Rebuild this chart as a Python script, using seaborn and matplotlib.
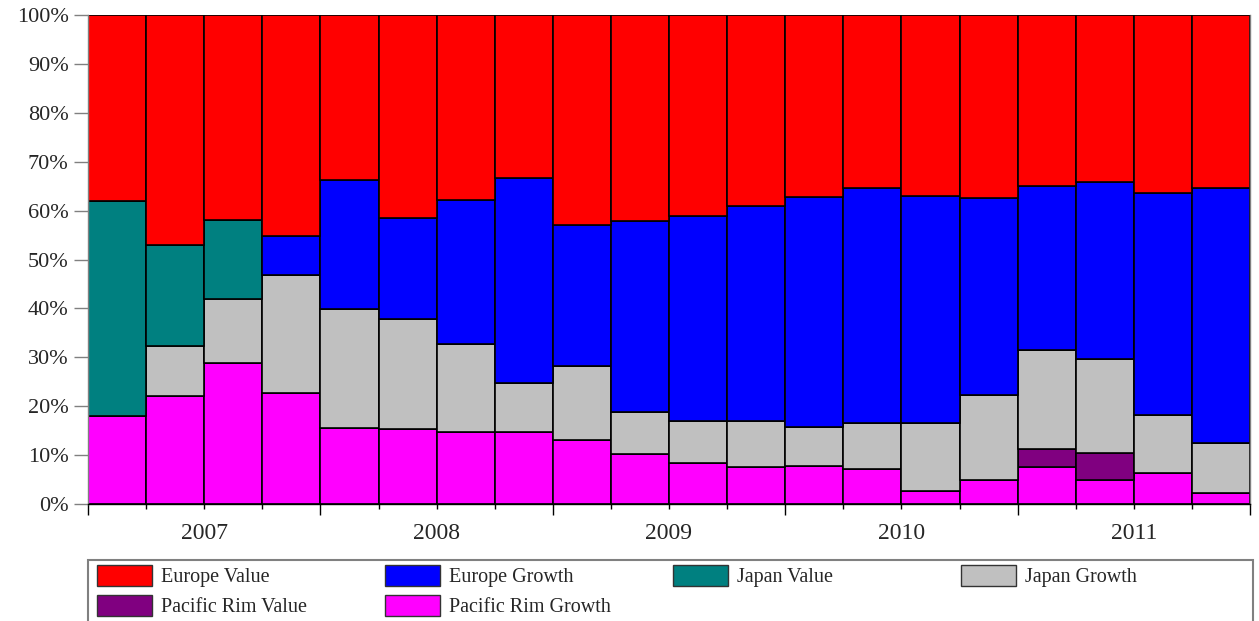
import numpy as np
import pandas as pd
import matplotlib
matplotlib.use("Agg")
import matplotlib.pyplot as plt
from matplotlib.patches import Rectangle
from matplotlib.ticker import FixedLocator, PercentFormatter
import seaborn as sns

# Quarterly style allocation (percent of portfolio)
quarters = [f"{y} Q{q}" for y in range(2007, 2012) for q in range(1, 5)]
years = ["2007", "2008", "2009", "2010", "2011"]

pacific_rim_growth = [18.0, 22.0, 28.8, 22.8, 15.5, 15.3, 14.7, 14.7, 13.1, 10.2,
                      8.4, 7.6, 7.8, 7.1, 2.7, 4.9, 7.6, 5.0, 6.4, 2.3]
pacific_rim_value = [0, 0, 0, 0, 0, 0, 0, 0, 0, 0,
                     0, 0, 0, 0, 0, 0, 3.6, 5.5, 0, 0]
japan_growth = [0, 10.4, 13.1, 24.1, 24.4, 22.5, 18.0, 10.1, 15.2, 8.7,
                8.6, 9.4, 8.0, 9.5, 13.9, 17.4, 20.2, 19.2, 11.8, 10.2]
japan_value = [44.0, 20.6, 16.2, 0, 0, 0, 0, 0, 0, 0,
               0, 0, 0, 0, 0, 0, 0, 0, 0, 0]
europe_growth = [0, 0, 0, 8.0, 26.3, 20.6, 29.4, 41.9, 28.8, 39.0,
                 41.9, 44.0, 47.0, 48.0, 46.4, 40.2, 33.7, 36.2, 45.5, 52.1]
europe_value = [38.0, 47.0, 41.9, 45.1, 33.8, 41.6, 37.9, 33.3, 42.9, 42.1,
                41.1, 39.0, 37.2, 35.4, 37.0, 37.5, 34.9, 34.1, 36.3, 35.4]

# bottom-to-top stacking order
series = [
    ("Pacific Rim Growth", pacific_rim_growth, "#FF00FF"),
    ("Pacific Rim Value", pacific_rim_value, "#800080"),
    ("Japan Growth", japan_growth, "#C0C0C0"),
    ("Japan Value", japan_value, "#008080"),
    ("Europe Growth", europe_growth, "#0000FF"),
    ("Europe Value", europe_value, "#FF0000"),
]

sns.set_style("white")
plt.rcParams["font.family"] = ["Liberation Serif", "DejaVu Serif"]

W, H = 1259, 621
fig = plt.figure(figsize=(W / 100, H / 100), dpi=100)
ax = fig.add_axes([88 / W, 1 - 504 / H, (1250 - 88) / W, (504 - 15) / H])

bottom = np.zeros(len(quarters))
handles = {}
for name, values, color in series:
    df = pd.DataFrame({"quarter": quarters, "share": values})
    sns.barplot(data=df, x="quarter", y="share", order=quarters, bottom=bottom,
                color=color, saturation=1, width=1, errorbar=None,
                edgecolor="black", linewidth=1.2, ax=ax)
    handles[name] = Rectangle((0, 0), 1, 1, facecolor=color,
                              edgecolor="#333333", linewidth=1)
    bottom = bottom + np.asarray(values)

ax.set_xlim(-0.5, len(quarters) - 0.5)
ax.set_ylim(0, 100)
ax.set_xlabel("")
ax.set_ylabel("")

# y axis
ax.yaxis.set_major_locator(FixedLocator(np.arange(0, 101, 10)))
ax.yaxis.set_major_formatter(PercentFormatter(100, decimals=0))
ax.tick_params(axis="y", direction="out", length=10, width=1, color="#808080",
               pad=4, labelsize=16, left=True)

# x axis: long ticks at year boundaries, short ticks at quarter boundaries
bounds = np.arange(len(quarters) + 1) - 0.5
ax.set_xticks(bounds[::4])
ax.set_xticklabels([])
ax.set_xticks(bounds, minor=True)
ax.tick_params(axis="x", which="major", direction="out", length=8, width=1,
               color="black", bottom=True)
ax.tick_params(axis="x", which="minor", direction="out", length=3.6, width=1,
               color="black", bottom=True)

sec = ax.secondary_xaxis("bottom")
sec.set_xticks(np.arange(len(years)) * 4 + 1.5)
sec.set_xticklabels(years)
sec.tick_params(axis="x", length=0, pad=14, labelsize=17)
sec.spines["bottom"].set_visible(False)

ax.spines["top"].set_visible(False)
ax.spines["left"].set_color("#808080")
ax.spines["right"].set_color("#808080")
ax.spines["bottom"].set_color("black")
for s in ax.spines.values():
    s.set_linewidth(1)

# legend box spanning the plot width, running past the bottom edge
fig.patches.append(Rectangle((88 / W, -0.05), (1253 - 88) / W, 0.05 + 61 / H,
                             transform=fig.transFigure, facecolor="white",
                             edgecolor="#808080", linewidth=1.5, zorder=0))

# four evenly spaced legend columns, read row-wise
columns = [["Europe Value", "Pacific Rim Value"],
           ["Europe Growth", "Pacific Rim Growth"],
           ["Japan Value"],
           ["Japan Growth"]]
fs = 14.5
fs_px = fs * 100 / 72
for i, names in enumerate(columns):
    x0 = (97 + 288 * i) / W
    fig.legend([handles[n] for n in names], names, loc="upper left",
               bbox_to_anchor=(x0, 1 - 565 / H), borderaxespad=0,
               borderpad=0, frameon=False, fontsize=fs,
               handlelength=55 / fs_px, handleheight=24 / fs_px,
               handletextpad=9 / fs_px, labelspacing=8 / fs_px)

fig.savefig("out.png", dpi=100)
